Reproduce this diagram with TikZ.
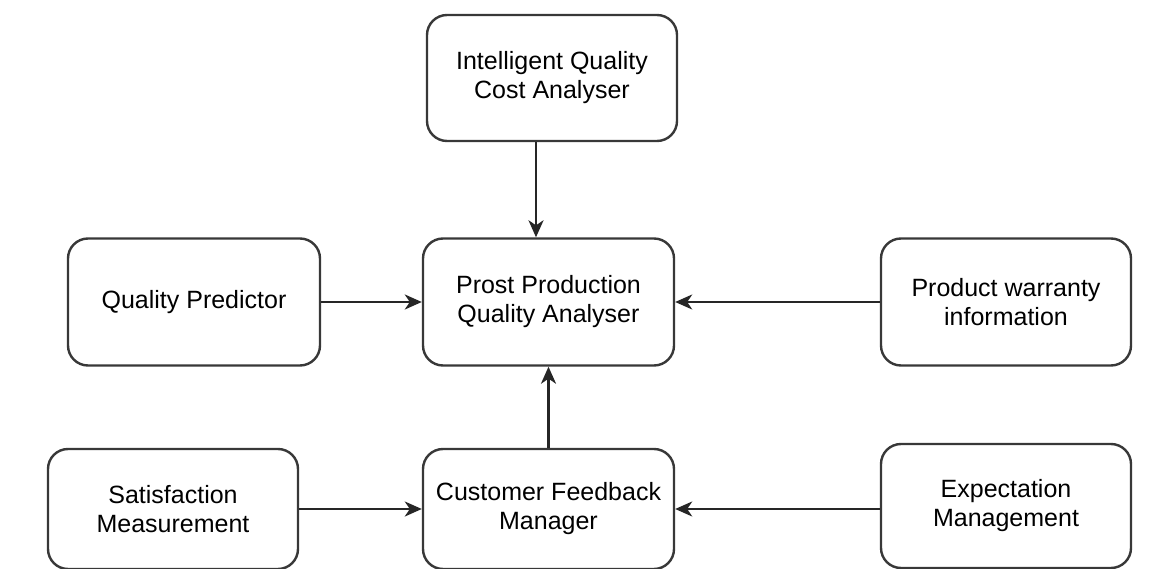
\documentclass[tikz,border=0pt]{standalone}
\usepackage{fontspec}
\setmainfont{Liberation Sans}
\usetikzlibrary{arrows.meta,calc}
\begin{document}
\begin{tikzpicture}[x=1pt,y=-1pt,
  box/.style={draw=black!78, line width=2.4pt, rounded corners=20pt, fill=white,
    align=center, inner sep=0pt, font=\fontsize{25}{29}\selectfont},
  arr/.style={draw=black!85, line width=2.2pt, -{Stealth[length=17pt,width=15pt,inset=5pt]}}]
\useasboundingbox (0,0) rectangle (1164,569);
\node[box, minimum width=250pt, minimum height=126pt] (iqca) at (552,78) {Intelligent Quality\\Cost Analyser};
\node[box, minimum width=251pt, minimum height=127pt] (ppqa) at (548.5,302) {Prost Production\\Quality Analyser};
\node[box, minimum width=252pt, minimum height=127pt] (qp) at (194,302) {Quality Predictor};
\node[box, minimum width=250pt, minimum height=127pt] (pw) at (1006,302) {Product warranty\\information};
\node[box, minimum width=250pt, minimum height=120pt] (sm) at (173,509) {Satisfaction\\Measurement};
\node[box, minimum width=251pt, minimum height=120pt] (cfm) at (548.5,509) {Customer Feedback\\Manager};
\node[box, minimum width=250pt, minimum height=124pt] (em) at (1006,506) {Expectation\\Management};
\coordinate (topx) at (536,0);
\draw[arr] (iqca.south -| topx) -- (ppqa.north -| topx);
\draw[arr] (qp.east) -- (ppqa.west);
\draw[arr] (pw.west) -- (ppqa.east);
\draw[arr] (cfm.north) -- (ppqa.south);
\draw[arr] (sm.east) -- (cfm.west);
\draw[arr] (em.west |- cfm.east) -- (cfm.east);
\end{tikzpicture}
\end{document}
